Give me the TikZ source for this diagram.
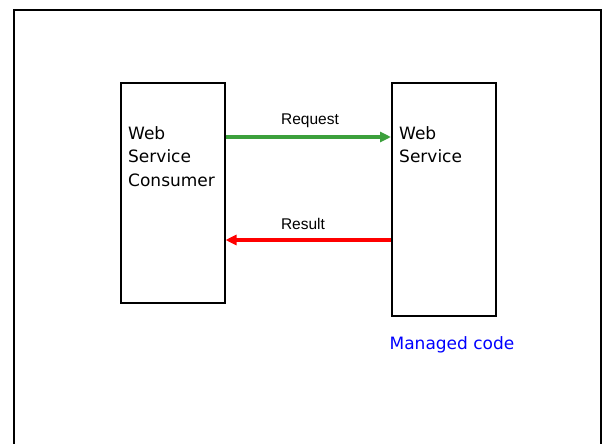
\documentclass[tikz,border=0pt]{standalone}
\usepackage{fontspec}
\setmainfont{DejaVu Sans}
\newfontfamily\arialfont{Liberation Sans}
\usetikzlibrary{arrows.meta}
\definecolor{reqgreen}{RGB}{60,160,60}
\definecolor{resred}{RGB}{255,0,0}
\definecolor{codeblue}{RGB}{0,0,255}
\tikzset{
  box/.style={draw=black, line width=1.5pt, minimum width=104pt, inner sep=0pt, rectangle},
  boxtext/.style={anchor=north west, align=left, font=\fontsize{17}{23.5}\selectfont, inner sep=0pt},
  flow/.style={line width=3.5pt, -{Triangle[length=11pt,width=10pt]}},
  flowlabel/.style={font=\arialfont\fontsize{15.5}{18}\selectfont, inner sep=0pt}
}
\begin{document}
\begin{tikzpicture}[x=1pt,y=-1pt]
  \useasboundingbox (0,0) rectangle (602,444);
  % page frame, open at the bottom
  \draw[line width=2pt] (13.5,444) -- (13.5,10) -- (600.5,10) -- (600.5,444);
  % the two parties
  \node[box, minimum height=220pt, anchor=north west] (consumer) at (120,82) {};
  \node[box, minimum height=233pt, anchor=north west] (service) at (391,82) {};
  \node[boxtext] (consumertext) at (128,126) {Web\\Service\\Consumer};
  \node[boxtext] (servicetext) at (399,126) {Web\\Service};
  % message rows
  \coordinate (reqrow) at (0,137);
  \coordinate (resrow) at (0,240);
  \draw[flow, reqgreen] (consumer.east |- reqrow) -- (service.west |- reqrow);
  \draw[flow, resred] (service.west |- resrow) -- (consumer.east |- resrow);
  \node[flowlabel] (reqlabel) at (310,121) {Request};
  \node[flowlabel] (reslabel) at (303,224) {Result};
  \node[font=\fontsize{17}{20}\selectfont, text=codeblue, inner sep=0pt] (managed) at (452,345) {Managed code};
\end{tikzpicture}
\end{document}
